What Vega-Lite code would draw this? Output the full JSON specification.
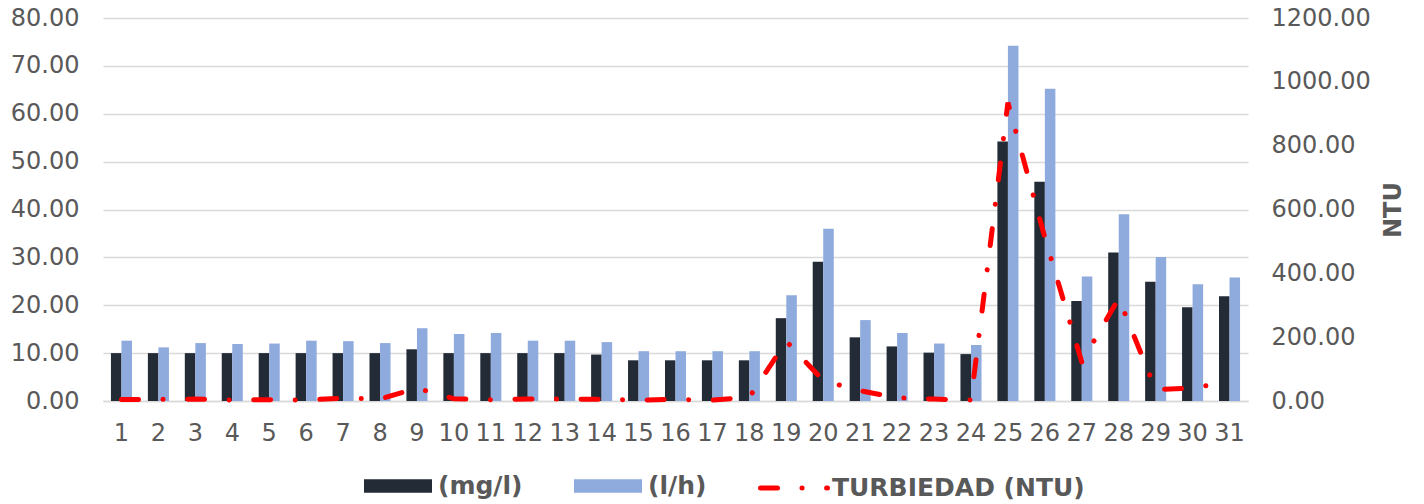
{
  "$schema": "https://vega.github.io/schema/vega-lite/v6.json",
  "width": 1145,
  "height": 383,
  "autosize": {"type": "none"},
  "padding": {"left": 103, "top": 18, "right": 176, "bottom": 103},
  "background": "white",
  "config": {
    "view": {"stroke": null},
    "font": "DejaVu Sans",
    "axis": {"labelFont": "DejaVu Sans", "titleFont": "DejaVu Sans", "labelColor": "#595959", "titleColor": "#595959", "labelFontSize": 24, "ticks": false},
    "legend": {"labelFont": "DejaVu Sans"}
  },
  "data": {
    "values": [
      {"dia": 1, "mg": 10.0, "lh": 12.6, "ntu": 5},
      {"dia": 2, "mg": 10.0, "lh": 11.2, "ntu": 5},
      {"dia": 3, "mg": 10.0, "lh": 12.1, "ntu": 6},
      {"dia": 4, "mg": 10.0, "lh": 11.9, "ntu": 3},
      {"dia": 5, "mg": 10.0, "lh": 12.0, "ntu": 4},
      {"dia": 6, "mg": 10.0, "lh": 12.6, "ntu": 3},
      {"dia": 7, "mg": 10.0, "lh": 12.5, "ntu": 9},
      {"dia": 8, "mg": 10.0, "lh": 12.1, "ntu": 6},
      {"dia": 9, "mg": 10.8, "lh": 15.2, "ntu": 40},
      {"dia": 10, "mg": 10.0, "lh": 14.0, "ntu": 7},
      {"dia": 11, "mg": 10.0, "lh": 14.2, "ntu": 4},
      {"dia": 12, "mg": 10.0, "lh": 12.6, "ntu": 6},
      {"dia": 13, "mg": 10.0, "lh": 12.6, "ntu": 6},
      {"dia": 14, "mg": 9.7, "lh": 12.3, "ntu": 5},
      {"dia": 15, "mg": 8.5, "lh": 10.4, "ntu": 3},
      {"dia": 16, "mg": 8.5, "lh": 10.4, "ntu": 5},
      {"dia": 17, "mg": 8.5, "lh": 10.4, "ntu": 3},
      {"dia": 18, "mg": 8.5, "lh": 10.4, "ntu": 12},
      {"dia": 19, "mg": 17.3, "lh": 22.1, "ntu": 187},
      {"dia": 20, "mg": 29.1, "lh": 36.0, "ntu": 64},
      {"dia": 21, "mg": 13.3, "lh": 16.9, "ntu": 32},
      {"dia": 22, "mg": 11.4, "lh": 14.2, "ntu": 10},
      {"dia": 23, "mg": 10.1, "lh": 12.0, "ntu": 6},
      {"dia": 24, "mg": 9.8, "lh": 11.7, "ntu": 3},
      {"dia": 25, "mg": 54.2, "lh": 74.2, "ntu": 935},
      {"dia": 26, "mg": 45.8, "lh": 65.2, "ntu": 512},
      {"dia": 27, "mg": 20.9, "lh": 26.0, "ntu": 122},
      {"dia": 28, "mg": 31.0, "lh": 39.0, "ntu": 322},
      {"dia": 29, "mg": 24.9, "lh": 30.1, "ntu": 36},
      {"dia": 30, "mg": 19.6, "lh": 24.4, "ntu": 40},
      {"dia": 31, "mg": 21.9, "lh": 25.8, "ntu": 62}
    ]
  },
  "encoding": {
    "x": {
      "field": "dia",
      "type": "ordinal",
      "scale": {"paddingInner": 0.43, "paddingOuter": 0.215},
      "axis": {"title": null, "labelAngle": 0, "domainColor": "#D9D9D9", "domainWidth": 1.5, "labelPadding": 20, "grid": false}
    }
  },
  "layer": [
    {
      "transform": [{"fold": ["mg", "lh"], "as": ["serie", "valor"]}],
      "mark": {"type": "bar"},
      "encoding": {
        "xOffset": {"field": "serie", "type": "nominal", "sort": ["mg", "lh"], "scale": {"paddingInner": 0, "paddingOuter": 0}},
        "y": {
          "field": "valor",
          "type": "quantitative",
          "scale": {"domain": [0, 80]},
          "axis": {"title": null, "values": [0, 10, 20, 30, 40, 50, 60, 70, 80], "format": ".2f", "grid": true, "gridColor": "#D9D9D9", "gridWidth": 1.5, "domain": false, "labelPadding": 24}
        },
        "color": {
          "field": "serie",
          "type": "nominal",
          "sort": ["mg", "lh"],
          "scale": {"domain": ["mg", "lh"], "range": ["#232B36", "#8FAADC"]},
          "legend": {
            "title": null,
            "orient": "none",
            "legendX": 261,
            "legendY": 434,
            "direction": "horizontal",
            "symbolType": "M-1,-0.2H1V0.2H-1Z",
            "symbolSize": 4624,
            "symbolStrokeWidth": 0,
            "symbolOpacity": 1,
            "labelFontSize": 25,
            "labelFontWeight": "bold",
            "labelColor": "#595959",
            "labelOffset": 6,
            "columnPadding": 51,
            "labelLimit": 400,
            "labelExpr": "datum.label == 'mg' ? '(mg/l)' : '(l/h)'"
          }
        }
      }
    },
    {
      "mark": {"type": "line", "strokeWidth": 5, "strokeDash": [17, 24.5, 0.1, 24.5], "strokeCap": "round"},
      "encoding": {
        "y": {
          "field": "ntu",
          "type": "quantitative",
          "scale": {"domain": [0, 1200]},
          "axis": {"orient": "right", "title": "NTU", "values": [0, 200, 400, 600, 800, 1000, 1200], "format": ".2f", "grid": false, "domain": false, "labelPadding": 23, "titleFontSize": 24, "titleFontWeight": "bold", "titleAngle": 270, "titlePadding": 35}
        },
        "color": {
          "datum": "TURBIEDAD (NTU)",
          "type": "nominal",
          "scale": {"range": ["#FF0000"]},
          "legend": {
            "title": null,
            "orient": "none",
            "legendX": 655,
            "legendY": 434,
            "symbolType": "stroke",
            "symbolSize": 4489,
            "symbolStrokeWidth": 5,
            "symbolDash": [17, 24.5, 0.1, 24.5],
            "labelFontSize": 25,
            "labelFontWeight": "bold",
            "labelColor": "#595959",
            "labelOffset": 2,
            "labelLimit": 400,
            "encode": {"symbols": {"update": {"strokeCap": {"value": "round"}}}}
          }
        }
      }
    }
  ],
  "resolve": {"scale": {"y": "independent", "color": "independent"}}
}
